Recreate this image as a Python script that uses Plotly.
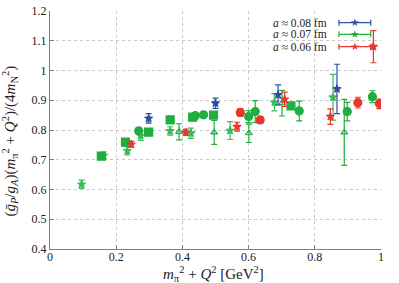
import plotly.graph_objects as go

# ---------------- data ----------------
blue_star_x = [0.298, 0.500, 0.689, 0.867]
blue_star_y = [0.839, 0.890, 0.918, 0.938]
blue_star_e = [0.016, 0.017, 0.034, 0.083]

green_star_x = [0.0955, 0.162, 0.2335, 0.274, 0.363, 0.426, 0.544, 0.678, 0.855]
green_star_y = [0.6175, 0.714, 0.730, 0.781, 0.797, 0.789, 0.798, 0.893, 0.910]
green_star_e = [0.014, 0.012, 0.014, 0.016, 0.014, 0.017, 0.030, 0.029, 0.077]

red_star_x = [0.2456, 0.410, 0.565, 0.709, 0.847, 0.977]
red_star_y = [0.752, 0.792, 0.811, 0.903, 0.845, 1.080]
red_star_e = [0.010, 0.010, 0.015, 0.024, 0.026, 0.054]

green_sq_x = [0.155, 0.228, 0.298, 0.363, 0.431, 0.494, 0.728]
green_sq_y = [0.712, 0.759, 0.793, 0.834, 0.843, 0.850, 0.881]
green_sq_e = [0.010, 0.008, 0.008, 0.010, 0.008, 0.008, 0.010]

green_ci_x = [0.268, 0.439, 0.464, 0.600, 0.620, 0.753, 0.898, 0.974]
green_ci_y = [0.797, 0.848, 0.851, 0.845, 0.862, 0.864, 0.862, 0.912]
green_ci_e = [0.010, 0.010, 0.010, 0.020, 0.037, 0.033, 0.031, 0.020]

red_ci_x = [0.575, 0.635, 0.930, 0.995]
red_ci_y = [0.859, 0.834, 0.892, 0.888]
red_ci_e = [0.013, 0.010, 0.018, 0.016]

green_tri_x = [0.390, 0.496, 0.601, 0.701, 0.889]
green_tri_y = [0.794, 0.792, 0.789, 0.890, 0.792]
green_tri_e = [0.027, 0.040, 0.031, 0.043, 0.111]

legend_labels = ["<i>a</i> ≈ 0.08 fm", "<i>a</i> ≈ 0.07 fm", "<i>a</i> ≈ 0.06 fm"]
x_title = "<i>m</i><sub>π</sub><sup>2</sup> + <i>Q</i><sup>2</sup> [GeV<sup>2</sup>]"
y_title = ("(<i>ḡ</i><sub><i>P</i></sub>/<i>g</i><sub><i>A</i></sub>)"
           "(<i>m</i><sub>π</sub><sup>2</sup> + <i>Q</i><sup>2</sup>)"
           "/(4<i>m</i><sub>N</sub><sup>2</sup>)")

BLUE = "#2f4f9f"
GREEN = "#1fae3f"
RED = "#e8372b"
FONT = "Liberation Serif, Times New Roman, serif"

fig = go.Figure()


def add(x, y, e, color, symbol, size, opacity=1.0):
    fig.add_trace(go.Scatter(
        x=x, y=y, mode="markers",
        marker=dict(symbol=symbol, size=size, color=color,
                    line=dict(color=color, width=1.2)),
        error_y=dict(type="data", array=e, visible=True, color=color,
                     thickness=1.2, width=3),
        opacity=opacity, showlegend=False))


add(green_tri_x, green_tri_y, green_tri_e, GREEN, "triangle-up-open", 6)
add(green_sq_x, green_sq_y, green_sq_e, GREEN, "square", 8)
add(green_ci_x, green_ci_y, green_ci_e, GREEN, "circle", 8)
add(red_ci_x, red_ci_y, red_ci_e, RED, "circle", 8)
add(green_star_x, green_star_y, green_star_e, GREEN, "star", 6, 0.85)
add(red_star_x, red_star_y, red_star_e, RED, "star", 6)
add(blue_star_x, blue_star_y, blue_star_e, BLUE, "star", 6)

# ---------------- legend (drawn on an overlay 0..1 axis) ----------------
leg_colors = [BLUE, GREEN, RED]
leg_y = [0.951, 0.902, 0.850]
leg_cx = 0.921
leg_half = 0.048
for lab, c, ly in zip(legend_labels, leg_colors, leg_y):
    fig.add_trace(go.Scatter(
        x=[leg_cx], y=[ly], xaxis="x2", yaxis="y2", mode="markers",
        marker=dict(symbol="star", size=6, color=c),
        error_x=dict(type="constant", value=leg_half, visible=True,
                     color=c, thickness=1.2, width=3),
        showlegend=False, hoverinfo="skip"))
    fig.add_annotation(x=0.842, y=ly, xref="paper", yref="paper",
                       text=lab, showarrow=False, xanchor="right",
                       yanchor="middle",
                       font=dict(family=FONT, size=11.5, color="#222"))

# axis titles as annotations for precise placement
fig.add_annotation(x=0.495, y=-0.106, xref="paper", yref="paper",
                   text=x_title, showarrow=False, xanchor="center",
                   yanchor="middle", font=dict(family=FONT, size=15, color="#222"))
fig.add_annotation(x=-0.122, y=0.454, xref="paper", yref="paper",
                   text=y_title, showarrow=False, textangle=-90,
                   xanchor="center", yanchor="middle",
                   font=dict(family=FONT, size=15, color="#222"))

grid = dict(showgrid=True, gridcolor="#c8c8c8", griddash="dot", gridwidth=1)
tickfont = dict(family=FONT, size=12, color="#222")
fig.update_layout(
    width=399, height=283,
    margin=dict(l=50, r=18, t=11, b=34, autoexpand=False),
    paper_bgcolor="white", plot_bgcolor="white",
    font=dict(family=FONT, size=12, color="#222"),
    xaxis=dict(range=[0, 1], dtick=0.2, tick0=0, zeroline=False,
               showline=True, linecolor="#808080", linewidth=1,
               ticks="inside", ticklen=4, tickcolor="#808080",
               tickformat="~g", automargin=False, tickfont=tickfont,
               ticklabelstandoff=-3,
               **grid),
    yaxis=dict(range=[0.4, 1.2], dtick=0.1, tick0=0.4, zeroline=False,
               showline=True, linecolor="#808080", linewidth=1,
               ticks="inside", ticklen=4, tickcolor="#808080",
               tickformat="~g", automargin=False, tickfont=tickfont,
               **grid),
    xaxis2=dict(range=[0, 1], overlaying="x", visible=False, fixedrange=True),
    yaxis2=dict(range=[0, 1], overlaying="y", visible=False, fixedrange=True),
)

fig.write_html("out.html", config={"displayModeBar": False},
               post_script="document.body.style.margin='0px';")
